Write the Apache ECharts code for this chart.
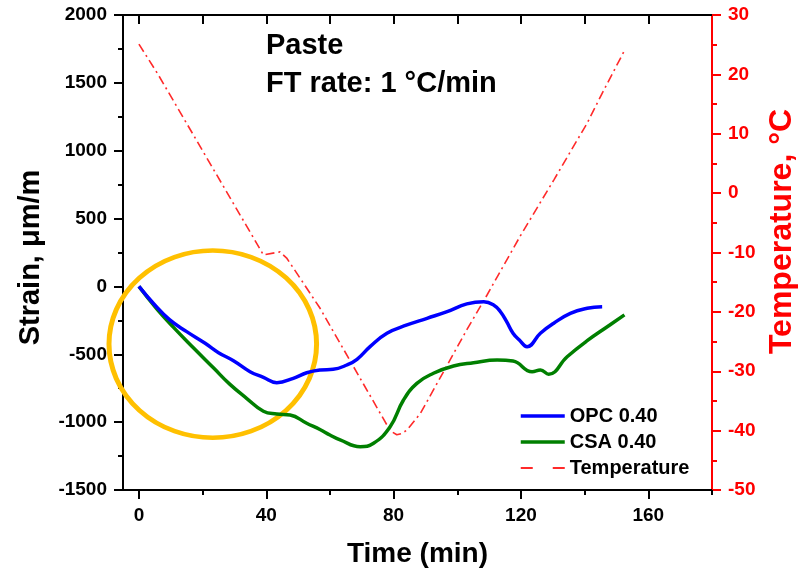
<!DOCTYPE html>
<html>
<head>
<meta charset="utf-8">
<script src="https://cdn.jsdelivr.net/npm/echarts@6/dist/echarts.min.js"></script>
<style>
  html, body { margin: 0; padding: 0; background: #fff; }
  #chart { width: 805px; height: 573px; }
</style>
</head>
<body>
<div id="chart"></div>
<script>
// Strain of OPC and CSA pastes over one freeze-thaw cycle, with chamber temperature.
const opcTime   = [0, 4.5, 9.7, 15, 20.8, 25, 29.7, 34.9, 39.1, 43.3, 48.5, 52.7, 57, 61, 65.3, 68.5, 72.6, 77.9, 84.2, 90.5, 96.8, 103, 108.3, 111.4, 113.5, 115.5, 117.5, 119.5, 121.9, 126.1, 130.3, 135.5, 140.8, 145.5];
const opcStrain = [0, -124, -247, -333, -419, -488, -547, -628, -670, -709, -677, -636, -616, -611, -579, -537, -444, -345, -284, -235, -186, -129, -112, -136, -185, -260, -345, -395, -444, -345, -271, -198, -161, -149];

const csaTime   = [0, 5.6, 10.8, 17.1, 23.4, 28.6, 33.9, 39.1, 43.3, 47.5, 52.7, 57, 60, 63.2, 69.5, 73.7, 78.9, 83.1, 87.3, 92.5, 98.8, 105.1, 112.5, 117.5, 123.5, 126.1, 128.7, 134.5, 140.8, 147.1, 152.5];
const csaStrain = [0, -165, -300, -452, -600, -722, -826, -920, -940, -947, -1008, -1056, -1095, -1131, -1181, -1156, -1034, -837, -714, -640, -586, -562, -542, -550, -628, -616, -647, -518, -400, -297, -210];

const tempTime  = [0, 6, 39.1, 44.3, 46.5, 56.9, 77.9, 79.5, 81, 82.5, 84.2, 88.4, 96.8, 103, 109.3, 119.8, 130.3, 140.8, 145.3, 152.3];
const tempValue = [25.1, 20, -10.4, -9.9, -11, -19.4, -39.05, -40.2, -40.7, -40.5, -39.9, -37.1, -29, -23, -17.2, -7.2, 2.2, 11.8, 16.6, 23.8];

const timeMajorTicks = [0, 40, 80, 120, 160];
const timeMinorTicks = [20, 60, 100, 140, 180];
const timeTopTicks   = [0, 20, 40, 60, 80, 100, 120, 140, 160];

const seriesNames = ['OPC 0.40', 'CSA 0.40', 'Temperature'];
const titleLines  = ['Paste', 'FT rate: 1 °C/min'];

// highlighted region (data units: centre time, centre strain, half-width, half-height)
const focusZone = { t: 23.2, s: -425, dt: 32.6, ds: 690 };

const FONT = 'Arial, "Liberation Sans", sans-serif';
const zip = (xs, ys) => xs.map((x, i) => [x, ys[i]]);
const plain = v => String(v);

const chart = echarts.init(document.getElementById('chart'), null, { renderer: 'canvas' });

const labelStyle = { fontFamily: FONT, fontWeight: 'bold', fontSize: 19, color: '#000' };
const nameStyle  = { fontFamily: FONT, fontWeight: 'bold', fontSize: 29, color: '#000' };

chart.setOption({
  animation: false,
  backgroundColor: '#fff',
  title: {
    text: titleLines.join('\n'),
    left: 261, top: 22,
    textStyle: { fontFamily: FONT, fontWeight: 'bold', fontSize: 29, lineHeight: 38, color: '#000' }
  },
  grid: { left: 123, right: 93, top: 15, bottom: 83, outerBoundsMode: 'none', containLabel: false },
  legend: {
    orient: 'vertical', left: 514, top: 401,
    itemWidth: 44, itemHeight: 16, itemGap: 6,
    selectedMode: false,
    itemStyle: { opacity: 0 },
    textStyle: { fontFamily: FONT, fontWeight: 'bold', fontSize: 20, lineHeight: 16, color: '#000' },
    data: [
      { name: seriesNames[0], lineStyle: { width: 3.5 }, itemStyle: { opacity: 0 } },
      { name: seriesNames[1], lineStyle: { width: 3.5 }, itemStyle: { opacity: 0 } },
      { name: seriesNames[2], lineStyle: { width: 2, type: [12, 20] }, itemStyle: { opacity: 0 } }
    ]
  },
  xAxis: [
    {
      type: 'value', position: 'bottom', min: -5, max: 180,
      axisLine: { show: true, onZero: false, lineStyle: { color: '#000', width: 2 } },
      axisTick: { show: true, customValues: timeMajorTicks, length: 9, lineStyle: { color: '#000', width: 2 } },
      axisLabel: { show: true, customValues: timeMajorTicks, margin: 16, formatter: plain, ...labelStyle },
      splitLine: { show: false },
      name: 'Time (min)', nameLocation: 'middle', nameGap: 50, nameTextStyle: { ...nameStyle, fontSize: 28 }
    },
    {
      type: 'value', position: 'bottom', min: -5, max: 180,
      axisLine: { show: false, onZero: false },
      axisTick: { show: true, customValues: timeMinorTicks, length: 5, lineStyle: { color: '#000', width: 2 } },
      axisLabel: { show: false },
      splitLine: { show: false }
    },
    {
      type: 'value', position: 'top', min: -5, max: 180,
      axisLine: { show: true, onZero: false, lineStyle: { color: '#000', width: 2 } },
      axisTick: { show: true, inside: true, customValues: timeTopTicks, length: 9, lineStyle: { color: '#000', width: 2 } },
      axisLabel: { show: false },
      splitLine: { show: false }
    }
  ],
  yAxis: [
    {
      type: 'value', position: 'left', min: -1500, max: 2000, interval: 500,
      axisLine: { show: true, onZero: false, lineStyle: { color: '#000', width: 2 } },
      axisTick: { show: true, length: 9, lineStyle: { color: '#000', width: 2 } },
      minorTick: { show: true, splitNumber: 2, length: 5, lineStyle: { color: '#000', width: 2 } },
      axisLabel: { margin: 16, formatter: plain, ...labelStyle },
      splitLine: { show: false },
      minorSplitLine: { show: false },
      name: 'Strain, μm/m', nameLocation: 'middle', nameRotate: 90, nameGap: 78,
      nameTextStyle: { ...nameStyle, padding: [0, 10, 0, 0] }
    },
    {
      type: 'value', position: 'right', min: -50, max: 30, interval: 10,
      axisLine: { show: true, onZero: false, lineStyle: { color: '#ff0000', width: 2 } },
      axisTick: { show: true, length: 9, lineStyle: { color: '#ff0000', width: 2 } },
      minorTick: { show: true, splitNumber: 2, length: 5, lineStyle: { color: '#ff0000', width: 2 } },
      axisLabel: { margin: 16, formatter: plain, ...labelStyle, color: '#ff0000' },
      splitLine: { show: false },
      minorSplitLine: { show: false },
      name: 'Temperature, °C', nameLocation: 'middle', nameRotate: 90, nameGap: 52,
      nameTextStyle: { ...nameStyle, fontSize: 32, color: '#ff0000', padding: [0, 0, 0, 42] }
    }
  ],
  series: [
    {
      name: seriesNames[0], type: 'line', xAxisIndex: 0, yAxisIndex: 0,
      data: zip(opcTime, opcStrain), showSymbol: false, symbol: 'none',
      smooth: 0.45, z: 5,
      lineStyle: { color: '#0000ff', width: 3.5 }, itemStyle: { color: '#0000ff' }
    },
    {
      name: seriesNames[1], type: 'line', xAxisIndex: 0, yAxisIndex: 0,
      data: zip(csaTime, csaStrain), showSymbol: false, symbol: 'none',
      smooth: 0.45, z: 4,
      lineStyle: { color: '#007f00', width: 3.5 }, itemStyle: { color: '#007f00' }
    },
    {
      name: seriesNames[2], type: 'line', xAxisIndex: 0, yAxisIndex: 1,
      data: zip(tempTime, tempValue), showSymbol: false, symbol: 'none',
      smooth: false, z: 3,
      lineStyle: { color: '#ff2a2a', width: 1.6, type: [9, 4, 2, 4] }, itemStyle: { color: '#ff2a2a' }
    }
  ]
});

// Orange ellipse highlighting the early cooling stage, placed in data coordinates.
const c  = chart.convertToPixel({ xAxisIndex: 0, yAxisIndex: 0 }, [focusZone.t, focusZone.s]);
const edge = chart.convertToPixel({ xAxisIndex: 0, yAxisIndex: 0 }, [focusZone.t + focusZone.dt, focusZone.s + focusZone.ds]);
const rx = Math.abs(edge[0] - c[0]);
const ry = Math.abs(edge[1] - c[1]);
chart.setOption({
  graphic: [{
    type: 'circle', z: 1,
    x: c[0], y: c[1],
    scaleX: rx / ry, scaleY: 1,
    shape: { cx: 0, cy: 0, r: ry },
    style: { fill: 'none', stroke: '#ffc000', lineWidth: 4.5, strokeNoScale: true }
  }]
});
</script>
</body>
</html>
